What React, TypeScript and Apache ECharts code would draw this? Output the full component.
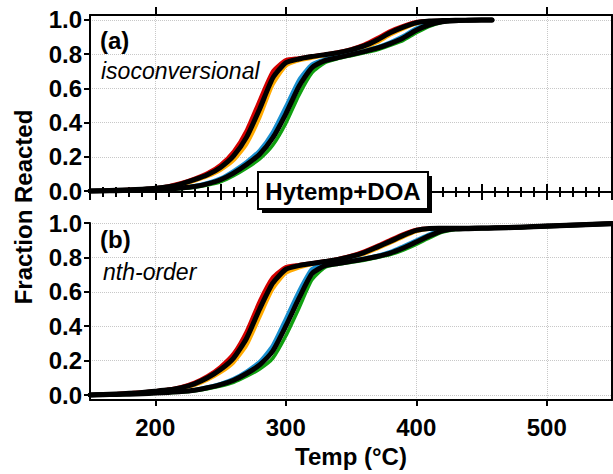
import React, { useEffect, useRef } from "react";
import * as echarts from "echarts";

// Panel (a): isoconversional
const tempsA = [150,160,170,180,190,200,210,220,230,240,250,260,270,280,290,300,310,320,330,340,350,360,370,380,390,400,410,420,430,440,450,458];
const redA = [0,0.002,0.006,0.009,0.013,0.018,0.03,0.048,0.074,0.106,0.155,0.232,0.357,0.533,0.7,0.767,0.778,0.79,0.8,0.813,0.831,0.857,0.895,0.937,0.967,0.99,0.996,0.997,0.998,0.999,1,1];
const orangeA = [0,0.002,0.003,0.006,0.01,0.015,0.021,0.036,0.058,0.085,0.122,0.178,0.273,0.428,0.62,0.73,0.762,0.777,0.79,0.799,0.815,0.836,0.868,0.912,0.948,0.977,0.991,0.996,0.998,0.999,1,1];
const fitA1 = [0,0.002,0.004,0.007,0.011,0.016,0.025,0.042,0.066,0.095,0.138,0.205,0.315,0.48,0.66,0.75,0.772,0.786,0.797,0.808,0.825,0.848,0.883,0.925,0.958,0.984,0.994,0.997,0.998,0.999,1,1];
const blueA = [0,0.001,0.002,0.003,0.005,0.008,0.013,0.02,0.031,0.048,0.075,0.119,0.172,0.239,0.346,0.495,0.65,0.742,0.771,0.786,0.803,0.821,0.843,0.871,0.907,0.952,0.98,0.993,0.998,0.999,1,1];
const greenA = [0,0.001,0.002,0.003,0.005,0.006,0.01,0.014,0.022,0.035,0.054,0.089,0.134,0.187,0.267,0.395,0.559,0.69,0.75,0.774,0.791,0.808,0.826,0.852,0.88,0.925,0.963,0.986,0.995,0.998,1,1];
const fitA2 = [0,0.001,0.002,0.003,0.005,0.007,0.011,0.017,0.026,0.042,0.066,0.105,0.155,0.215,0.31,0.45,0.61,0.72,0.762,0.78,0.797,0.815,0.835,0.862,0.895,0.94,0.972,0.99,0.996,0.998,1,1];

// Panel (b): nth-order
const tempsB = [150,160,170,180,190,200,210,220,230,240,250,260,270,280,290,300,310,320,330,340,350,360,370,380,390,400,410,420,430,440,450,460,470,480,490,500,510,520,530,540,550];
const redB = [0.002,0.005,0.008,0.012,0.017,0.025,0.033,0.049,0.074,0.112,0.166,0.242,0.372,0.548,0.685,0.745,0.758,0.768,0.779,0.793,0.811,0.837,0.869,0.904,0.937,0.963,0.97,0.97,0.97,0.971,0.972,0.973,0.975,0.977,0.98,0.983,0.986,0.989,0.992,0.995,0.998];
const orangeB = [0,0.002,0.005,0.009,0.014,0.019,0.027,0.037,0.056,0.088,0.13,0.188,0.288,0.452,0.615,0.708,0.74,0.759,0.771,0.784,0.799,0.819,0.85,0.883,0.918,0.95,0.965,0.968,0.969,0.97,0.971,0.972,0.974,0.976,0.979,0.982,0.985,0.988,0.991,0.994,0.997];
const fitB1 = [0,0.003,0.006,0.01,0.015,0.022,0.03,0.043,0.065,0.1,0.148,0.215,0.33,0.5,0.65,0.73,0.752,0.765,0.776,0.788,0.805,0.828,0.86,0.893,0.928,0.957,0.968,0.969,0.97,0.97,0.971,0.972,0.974,0.976,0.979,0.982,0.985,0.988,0.991,0.994,0.997];
const blueB = [0.002,0.004,0.005,0.007,0.01,0.013,0.017,0.022,0.031,0.047,0.066,0.095,0.139,0.195,0.29,0.445,0.605,0.734,0.761,0.769,0.782,0.795,0.811,0.833,0.866,0.9,0.936,0.961,0.967,0.969,0.97,0.971,0.973,0.975,0.978,0.981,0.984,0.987,0.99,0.993,0.996];
const greenB = [0,0.001,0.002,0.004,0.007,0.01,0.014,0.017,0.024,0.036,0.052,0.074,0.109,0.151,0.213,0.343,0.503,0.669,0.742,0.76,0.772,0.784,0.799,0.816,0.843,0.876,0.913,0.947,0.962,0.966,0.968,0.97,0.972,0.974,0.977,0.98,0.983,0.986,0.989,0.992,0.995];
const fitB2 = [0,0.002,0.003,0.005,0.008,0.011,0.015,0.02,0.028,0.042,0.06,0.086,0.125,0.175,0.255,0.4,0.56,0.705,0.752,0.764,0.777,0.79,0.805,0.825,0.855,0.89,0.925,0.955,0.965,0.967,0.969,0.971,0.973,0.975,0.978,0.981,0.984,0.987,0.99,0.993,0.996];

const xTicks = [200, 300, 400, 500];
const yTicks = [0, 0.2, 0.4, 0.6, 0.8, 1.0];

const FONT = '"Liberation Sans", Arial, sans-serif';
const BLACK = "#000";
const GRID_LINE = { color: "#c8c8c8", type: "dotted" as const, width: 1 };

function mk(temps: number[], vals: number[], color: string, width: number, xi: number, yi: number, z: number) {
  return {
    type: "line",
    xAxisIndex: xi,
    yAxisIndex: yi,
    data: temps.map((t, i) => [t, vals[i]]),
    symbol: "none",
    showSymbol: false,
    smooth: 0.2,
    lineStyle: { color, width, join: "round", cap: "round" },
    z,
    silent: true,
  };
}

export default function App() {
  const ref = useRef<HTMLDivElement>(null);
  useEffect(() => {
    document.body.style.margin = "0";
    if (!ref.current) return;
    const chart = echarts.init(ref.current, undefined, { renderer: "svg" });
    const axisLine = { onZero: false, lineStyle: { color: BLACK, width: 2 } };
    const yLeft = (gridIndex: number, min: number, max: number) => ({
      type: "value",
      gridIndex,
      position: "left",
      min,
      max,
      axisLine: { show: true, ...axisLine },
      axisTick: { show: true, customValues: yTicks, length: 6, lineStyle: { color: BLACK, width: 2 } },
      axisLabel: {
        customValues: yTicks,
        formatter: (v: number) => v.toFixed(1),
        color: BLACK,
        fontFamily: FONT,
        fontWeight: "bold",
        fontSize: 24,
        margin: 8,
      },
      splitLine: { show: true, lineStyle: GRID_LINE },
    });
    const yRight = (gridIndex: number, min: number, max: number) => ({
      type: "value",
      gridIndex,
      position: "right",
      min,
      max,
      axisLine: { show: true, ...axisLine },
      axisTick: { show: false },
      axisLabel: { show: false },
      splitLine: { show: false },
    });
    const midAxis = (inside: boolean) => ({
      type: "value",
      gridIndex: 0,
      position: "bottom",
      min: 150,
      max: 550,
      interval: 50,
      axisLine: inside ? { show: false, onZero: false } : { show: true, ...axisLine },
      axisTick: { show: true, inside, length: 8, lineStyle: { color: BLACK, width: 2 } },
      minorTick: { show: true, splitNumber: 5, length: 5, lineStyle: { color: BLACK, width: 2 } },
      axisLabel: { show: false },
      splitLine: { show: false },
      minorSplitLine: { show: false },
    });

    chart.setOption({
      animation: false,
      backgroundColor: "#fff",
      grid: [
        { left: 90, right: 1, top: 15, height: 177 },
        { left: 90, right: 1, top: 223, height: 177 },
      ],
      xAxis: [
        {
          type: "value",
          gridIndex: 0,
          position: "top",
          min: 150,
          max: 550,
          axisLine: { show: true, ...axisLine },
          axisTick: { show: true, customValues: xTicks, length: 8, lineStyle: { color: BLACK, width: 2 } },
          axisLabel: { show: false, customValues: xTicks },
          splitLine: { show: true, lineStyle: GRID_LINE },
        },
        midAxis(false),
        midAxis(true),
        {
          type: "value",
          gridIndex: 1,
          position: "bottom",
          min: 150,
          max: 550,
          axisLine: { show: true, ...axisLine },
          axisTick: { show: true, customValues: xTicks, length: 6, lineStyle: { color: BLACK, width: 2 } },
          axisLabel: {
            customValues: xTicks,
            color: BLACK,
            fontFamily: FONT,
            fontWeight: "bold",
            fontSize: 24,
            margin: 15,
          },
          splitLine: { show: true, lineStyle: GRID_LINE },
          name: "Temp (°C)",
          nameLocation: "middle",
          nameGap: 44,
          nameTextStyle: { color: BLACK, fontFamily: FONT, fontWeight: "bold", fontSize: 24 },
        },
      ],
      yAxis: [
        yLeft(0, -0.0058, 1.029),
        yRight(0, -0.0058, 1.029),
        yLeft(1, -0.029, 1.0),
        yRight(1, -0.029, 1.0),
      ],
      series: [
        mk(tempsA, orangeA, "#ffaa00", 3.5, 0, 0, 2),
        mk(tempsA, redA, "#d40000", 3.5, 0, 0, 2),
        mk(tempsA, greenA, "#10a010", 3.5, 0, 0, 2),
        mk(tempsA, blueA, "#1a90d0", 3.5, 0, 0, 2),
        mk(tempsA, fitA1, BLACK, 5, 0, 0, 3),
        mk(tempsA, fitA2, BLACK, 5, 0, 0, 3),
        mk(tempsB, orangeB, "#ffaa00", 3.5, 3, 2, 2),
        mk(tempsB, redB, "#d40000", 3.5, 3, 2, 2),
        mk(tempsB, greenB, "#10a010", 3.5, 3, 2, 2),
        mk(tempsB, blueB, "#1a90d0", 3.5, 3, 2, 2),
        mk(tempsB, fitB1, BLACK, 5, 3, 2, 3),
        mk(tempsB, fitB2, BLACK, 5, 3, 2, 3),
      ],
      graphic: [
        {
          type: "text",
          x: 23,
          y: 207,
          rotation: Math.PI / 2,
          z: 100,
          style: { text: "Fraction Reacted", fill: BLACK, font: `bold 24px ${FONT}`, align: "center", verticalAlign: "middle" },
        },
        { type: "text", x: 100, y: 40, z: 100, style: { text: "(a)", fill: BLACK, font: `bold 24px ${FONT}`, align: "left", verticalAlign: "middle" } },
        { type: "text", x: 101, y: 71, z: 100, style: { text: "isoconversional", fill: BLACK, font: `italic 23px ${FONT}`, align: "left", verticalAlign: "middle" } },
        { type: "text", x: 100, y: 239, z: 100, style: { text: "(b)", fill: BLACK, font: `bold 24px ${FONT}`, align: "left", verticalAlign: "middle" } },
        { type: "text", x: 103, y: 272, z: 100, style: { text: "nth-order", fill: BLACK, font: `italic 23px ${FONT}`, align: "left", verticalAlign: "middle" } },
        { type: "rect", z: 100, shape: { x: 262, y: 176, width: 170, height: 37 }, style: { fill: BLACK } },
        { type: "rect", z: 101, shape: { x: 258, y: 172, width: 170, height: 37 }, style: { fill: "#fff", stroke: BLACK, lineWidth: 2 } },
        { type: "text", x: 343, y: 191, z: 102, style: { text: "Hytemp+DOA", fill: BLACK, font: `bold 24px ${FONT}`, align: "center", verticalAlign: "middle" } },
      ],
    });
    return () => chart.dispose();
  }, []);
  return <div ref={ref} style={{ width: 613, height: 474 }} />;
}
